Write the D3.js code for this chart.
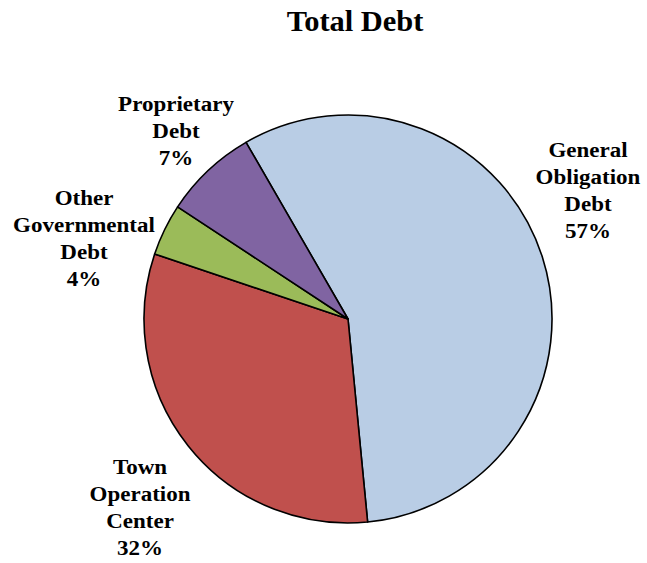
<!DOCTYPE html>
<html>
<head>
<meta charset="utf-8">
<script src="https://cdn.jsdelivr.net/npm/d3@7"></script>
<style>
  body { margin: 0; background: #fff; }
  text { font-family: "Liberation Serif", "Times New Roman", serif; font-weight: bold; fill: #000; }
</style>
</head>
<body>
<svg id="chart" width="647" height="563"></svg>
<script>
// slice data (clockwise from the GO slice)
var categories = ['General Obligation Debt', 'Town Operation Center', 'Other Governmental Debt', 'Proprietary Debt'];
var values = [56.8, 31.7, 4.1, 7.4];
var colors = ['#B9CDE5', '#C0504D', '#9BBB59', '#8064A2'];

// label lines, one entry per category
var labelLines = [
  ['General', 'Obligation', 'Debt'],
  ['Town', 'Operation', 'Center'],
  ['Other', 'Governmental', 'Debt'],
  ['Proprietary', 'Debt']
];

var width = 647, height = 563;
var cx = 348, cy = 319, radius = 204;
var lineH = 27;
var stretch = 1.15; // the original text is drawn a bit wide

// where each label block sits (centre x, first baseline y)
var labelPos = [[588, 157], [140, 474], [84, 205], [176, 111]];

var svg = d3.select('#chart');

svg.append('text')
  .attr('transform', 'translate(355,31) scale(1.05,1)')
  .attr('text-anchor', 'middle')
  .style('font-size', '29px')
  .text('Total Debt');

var total = d3.sum(values);
var data = categories.map(function(c, i) { return {name: c, value: values[i], i: i}; });

var startA = -30 * Math.PI / 180;
var pie = d3.pie()
  .sort(null)
  .value(function(d) { return d.value; })
  .startAngle(startA)
  .endAngle(startA + 2 * Math.PI);

var arc = d3.arc().innerRadius(0).outerRadius(radius);

var g = svg.append('g').attr('transform', 'translate(' + cx + ',' + cy + ')');

g.selectAll('path')
  .data(pie(data))
  .join('path')
  .attr('d', arc)
  .attr('fill', function(d) { return colors[d.data.i]; })
  .attr('stroke', '#000')
  .attr('stroke-width', 1.6)
  .attr('stroke-linejoin', 'round');

var fmt = d3.format('.0%');

data.forEach(function(d, i) {
  var lines = labelLines[i].concat([fmt(d.value / total)]);
  var t = svg.append('text')
    .attr('transform', 'translate(' + labelPos[i][0] + ',' + labelPos[i][1] + ') scale(' + stretch + ',1)')
    .attr('text-anchor', 'middle')
    .style('font-size', '20px');
  lines.forEach(function(s, k) {
    t.append('tspan')
      .attr('x', 0)
      .attr('y', k * lineH)
      .text(s);
  });
});
</script>
</body>
</html>
